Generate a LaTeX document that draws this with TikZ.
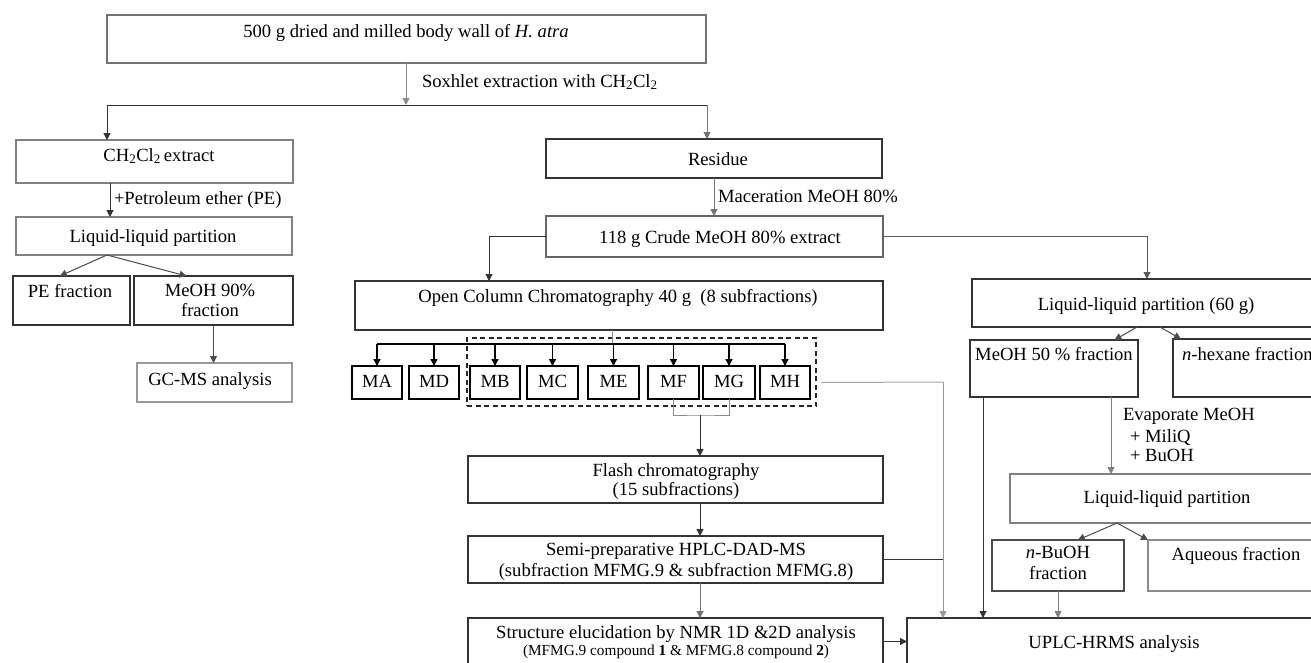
\documentclass[tikz,border=0pt]{standalone}
\usepackage{fontspec}
\setmainfont{Liberation Serif}
\usetikzlibrary{arrows.meta,calc}
\newcommand\bx[6][]{\node[box,#1,minimum width={(#5)-(#3)},minimum height={(#6)-(#4)}] (#2) at ({((#3)+(#5))/2},{((#4)+(#6))/2}) {};}
\begin{document}
\begin{tikzpicture}[x=1pt,y=-1pt,
  every node/.style={font=\fontsize{18.6}{21}\selectfont, inner sep=0pt, outer sep=0pt, text=black},
  box/.style={draw=black!80, line width=1.1pt},
  sm/.style={draw=black, line width=1.6pt},
  tx/.style={anchor=base},
  txl/.style={anchor=base west},
  arr/.style={-{Triangle[length=7pt,width=7pt]}},
  ln/.style={line width=1pt, draw=#1},
  ln/.default=black!80]
\useasboundingbox (0,0) rectangle (1311,662);
\clip (0,0) rectangle (1311,662);
\fill[white] (0,0) rectangle (1311,662);

% ---------- boxes ----------
\bx[draw=black!55]{top}{107}{15}{706}{63}
\bx[draw=black!50]{ch2}{16}{140}{293}{183}
\bx[draw=black!50]{llp1}{16}{217}{292}{255}
\bx{pe}{13}{276}{130}{325}
\bx{m90}{134}{276}{293}{325}
\bx[draw=black!40]{gcms}{137}{363}{292}{402}
\bx{res}{546}{139}{882}{178}
\bx[draw=black!60]{crude}{546}{216}{883}{257}
\bx{occ}{355}{281}{883}{330}
\bx[sm]{MA}{352}{366}{402}{399}
\bx[sm]{MD}{409}{366}{459}{399}
\bx[sm]{MB}{470}{366}{520}{399}
\bx[sm]{MC}{527}{366}{578}{399}
\bx[sm]{ME}{588}{366}{639}{399}
\bx[sm]{MF}{648}{366}{699}{399}
\bx[sm]{MG}{703}{366}{755}{399}
\bx[sm]{MH}{760}{366}{810}{399}
\bx[draw=black!85,line width=1.6pt,dash pattern=on 5pt off 3.5pt]{sel}{467}{338}{816}{406}
\bx{flash}{468}{456}{883}{503}
\bx{semi}{468}{536}{883}{583}
\bx{struct}{468}{618}{883}{665}
\bx{llp60}{972}{279}{1330}{327}
\bx{m50}{970}{340}{1138}{397}
\bx{hex}{1173}{339}{1330}{397}
\bx[draw=black!50]{llp2}{1010}{474}{1330}{523}
\bx[draw=black!70]{nbu}{992}{540}{1124}{591}
\bx[draw=black!45]{aq}{1148}{540}{1330}{591}
\bx{uplc}{907}{618}{1330}{664}

% ---------- texts ----------
\node[tx] (t-top) at (406,37) {500 g dried and milled body wall of \textit{H. atra}};
\node[txl] (t-sox) at (422,87) {Soxhlet extraction with CH\textsubscript{2}Cl\textsubscript{2}};
\node[tx] (t-ch2) at (159,161) {CH\textsubscript{2}Cl\textsubscript{2}\,extract};
\node[txl] (t-pet) at (114,204) {+Petroleum ether (PE)};
\node[tx] (t-llp1) at (153,242) {Liquid-liquid partition};
\node[tx] (t-pe) at (70,297) {PE fraction};
\node[tx] (t-m90a) at (210,296) {MeOH 90\%};
\node[tx] (t-m90b) at (210,316) {fraction};
\node[tx] (t-gc) at (210,385) {GC-MS analysis};
\node[tx] (t-res) at (718,165) {Residue};
\node[txl] (t-mac) at (718,202) {Maceration MeOH 80\%};
\node[tx] (t-crude) at (720,243) {118 g Crude MeOH 80\% extract};
\node[tx] (t-occ) at (618,302) {Open Column Chromatography 40 g\ \ (8 subfractions)};
\foreach \n in {MA,MD,MB,MC,ME,MF,MG,MH}{\node[tx] (t-\n) at (\n.center |- 0,387) {\n};}
\node[tx] (t-fl1) at (676,476) {Flash chromatography};
\node[tx] (t-fl2) at (676,495) {(15 subfractions)};
\node[tx] (t-se1) at (676,555) {Semi-preparative HPLC-DAD-MS};
\node[tx] (t-se2) at (676,576) {(subfraction MFMG.9 \& subfraction MFMG.8)};
\node[tx] (t-st1) at (676,638) {Structure elucidation by NMR 1D \&2D analysis};
\node[tx,font=\fontsize{15.3}{18}\selectfont] (t-st2) at (676,655) {(MFMG.9 compound \textbf{1} \& MFMG.8 compound \textbf{2})};
\node[tx] (t-llp60) at (1146,310) {Liquid-liquid partition (60 g)};
\node[tx] (t-m50) at (1054,360) {MeOH 50 \% fraction};
\node[txl] (t-hex) at (1182,360) {\textit{n}-hexane fraction};
\node[txl] (t-ev1) at (1123,420) {Evaporate MeOH};
\node[txl] (t-ev2) at (1130,442) {+ MiliQ};
\node[txl] (t-ev3) at (1130,461) {+ BuOH};
\node[tx] (t-llp2) at (1167,503) {Liquid-liquid partition};
\node[tx] (t-nb1) at (1058,558) {\textit{n}-BuOH};
\node[tx] (t-nb2) at (1058,579) {fraction};
\node[tx] (t-aq) at (1236,560) {Aqueous fraction};
\node[tx] (t-uplc) at (1114,648) {UPLC-HRMS analysis};

% ---------- connectors ----------
\coordinate (split) at (406,105);
\coordinate (hl) at (107,105);
\coordinate (hr) at (707,105);
\draw[ln=black!45,arr] (split |- top.south) -- (split);
\draw[ln] (hl) -- (hr);
\draw[ln,arr] (hl) -- (hl |- ch2.north);
\draw[ln=black!55,arr] (hr) -- (hr |- res.north);

\coordinate (pet) at (110,0);
\draw[ln,arr] (pet |- ch2.south) -- (pet |- llp1.north);
\coordinate (lsp) at (107,255);
\draw[ln=black!70,arr] (lsp) -- ($(pe.north west)!0.4!(pe.north east)$);
\draw[ln=black!70,arr] (lsp) -- ($(m90.north west)!0.33!(m90.north east)$);
\draw[ln=black!70,arr] (m90.south) -- (m90.south |- gcms.north);

\draw[ln=black!55,arr] (res.south) -- (res.south |- crude.north);
\coordinate (cL) at (489,237);
\coordinate (cR) at (1147,237);
\draw[ln,arr] (crude.west) -| (cL |- occ.north);
\draw[ln=black!65,arr] (crude.east) -| (cR |- llp60.north);

\coordinate (bus) at (612,344);
\draw[ln=black!45] (bus |- occ.south) -- (bus);
\draw[line width=1.5pt,black] (MA.north |- bus) -- (MH.north |- bus);
\foreach \n in {MA,MD,MB,MC,ME,MF,MG,MH}{\draw[line width=1.3pt,black,arr] (\n.north |- bus) -- (\n.north);}

\coordinate (j) at (700,415);
\draw[ln=black!45] (MF.south) |- (j) -| (MG.south);
\draw[ln,arr] (j) -- (j |- flash.north);
\draw[ln,arr] (j |- flash.south) -- (j |- semi.north);
\draw[ln=black!55,arr] (j |- semi.south) -- (j |- struct.north);

\coordinate (v1) at (943,382);
\draw[ln=black!35] ([xshift=11pt]MH.east) -- (v1);
\draw[ln=black!40,arr] (v1) -- (v1 |- uplc.north);
\draw[ln] (semi.east) -- (v1 |- semi.east);
\draw[ln,arr] (struct.east) -- (struct.east -| uplc.west);

\coordinate (a1) at (1137,327);
\coordinate (a2) at (1160,327);
\draw[ln=black!70,arr] (a1) -- ($(m50.north west)!0.86!(m50.north east)$);
\draw[ln=black!70,arr] (a2) -- ($(hex.north west)+(8,0)$);
\coordinate (v2) at (983,0);
\draw[ln,arr] (v2 |- m50.south) -- (v2 |- uplc.north);
\coordinate (v3) at (1111,0);
\draw[ln=black!50,arr] (v3 |- m50.south) -- (v3 |- llp2.north);
\coordinate (a3) at (1117,523);
\draw[ln=black!70,arr] (a3) -- ($(nbu.north west)!0.65!(nbu.north east)$);
\draw[ln=black!70,arr] (a3) -- (aq.north west);
\draw[ln=black!50,arr] (nbu.south) -- (nbu.south |- uplc.north);
\end{tikzpicture}
\end{document}
